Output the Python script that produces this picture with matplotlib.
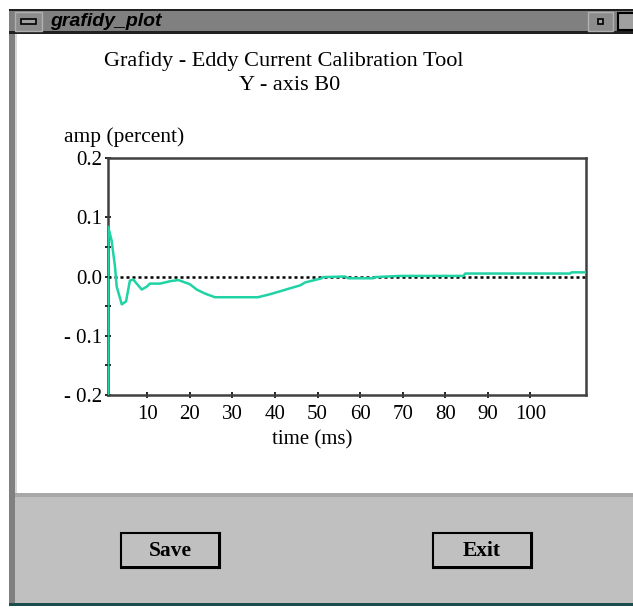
import matplotlib.pyplot as plt
from matplotlib.patches import Rectangle

# curve
time_ms = [0.76, 0.8, 1.6, 2.4, 2.8, 4.0, 5.0, 5.9, 6.7, 7.5, 8.7, 9.9, 10.6,
           13.0, 15.3, 17.3, 20.0, 21.6, 23.6, 25.9, 36.0, 38.8, 41.2, 43.5,
           45.9, 47.1, 51.0, 51.3, 56.5, 57.2, 63.1, 63.5, 69.4, 84.3, 84.7,
           109.4, 109.7, 113.1]
amp = [-0.2, 0.084, 0.061, 0.017, -0.017, -0.047, -0.042, -0.007, -0.005,
       -0.012, -0.022, -0.017, -0.012, -0.012, -0.008, -0.006, -0.013, -0.022,
       -0.029, -0.035, -0.035, -0.030, -0.025, -0.020, -0.015, -0.010, -0.003,
       -0.001, 0.0, -0.003, -0.003, -0.001, 0.001, 0.001, 0.005, 0.005,
       0.007, 0.007]

xticks = [10, 20, 30, 40, 50, 60, 70, 80, 90, 100]
yticks = [-0.2, -0.1, 0.0, 0.1, 0.2]
ytick_labels = ['- 0.2', '- 0.1', '0.0', '0.1', '0.2']

W, H = 633, 609
fig = plt.figure(figsize=(W / 100, H / 100), dpi=100)
serif = 'Liberation Serif'


def box(x0, y0, x1, y1, **kw):
    # pixel box, y measured from the top
    r = Rectangle((x0 / W, 1 - y1 / H), (x1 - x0) / W, (y1 - y0) / H,
                  transform=fig.transFigure, **kw)
    fig.patches.append(r)


def txt(x, y, s, **kw):
    fig.text(x / W, 1 - y / H, s, **kw)


# window chrome
box(9, 9, 15, 606, facecolor='#808080', edgecolor='none')
box(15, 33, 17, 496, facecolor='#d8d8d8', edgecolor='none')
box(9, 9, 633, 33, facecolor='#808080', edgecolor='none')
box(9, 9, 633, 11, facecolor='#202020', edgecolor='none')
box(9, 31, 633, 34, facecolor='#202020', edgecolor='none')
box(15, 12, 42, 31, facecolor='#8c8c8c', edgecolor='#b0b0b0', lw=1)
box(21, 19, 36, 24, facecolor='#a0a0a0', edgecolor='black', lw=1.2)
box(588, 12, 613, 31, facecolor='#8c8c8c', edgecolor='#b0b0b0', lw=1)
box(598, 19, 603, 24, facecolor='#a0a0a0', edgecolor='black', lw=1.2)
box(618, 13, 640, 30, facecolor='#a0a0a0', edgecolor='black', lw=1.5)
txt(50, 21, 'grafidy_plot', family='Liberation Sans', style='italic',
    weight='bold', fontsize=14, va='center', ha='left')

box(15, 493, 633, 497, facecolor='#a8a8a8', edgecolor='none')
box(15, 497, 633, 603, facecolor='#c0c0c0', edgecolor='none')
box(9, 603, 633, 606, facecolor='#1c4c4c', edgecolor='none')

for x0, label in [(121, 'Save'), (433, 'Exit')]:
    box(x0, 533, x0 + 99, 568, facecolor='#c0c0c0', edgecolor='black', lw=1.5)
    box(x0 + 1, 566, x0 + 99, 569, facecolor='black', edgecolor='none')
    box(x0 + 97, 534, x0 + 100, 569, facecolor='black', edgecolor='none')
    txt(x0 + 49, 551, label, family=serif, weight='bold', fontsize=15.5,
        ha='center', va='center')

# titles
txt(284, 61, 'Grafidy - Eddy Current Calibration Tool', family=serif,
    fontsize=16, ha='center', va='center')
txt(290, 85, 'Y - axis B0', family=serif, fontsize=16, ha='center', va='center')

# plot
ax = fig.add_axes([108 / W, 1 - 395 / H, 478 / W, 237 / H])
ax.plot(time_ms, amp, color='#1fd3a5', lw=1.8, zorder=3)
ax.axhline(0, color='black', lw=1.8, ls=(0, (1.2, 1.2)), zorder=2)
ax.set_xlim(0.76, 113.1)
ax.set_ylim(-0.2, 0.2)
ax.set_xticks(xticks)
ax.set_xticklabels([str(v) for v in xticks], family=serif, fontsize=15)
ax.set_yticks(yticks)
ax.set_yticklabels(ytick_labels, family=serif, fontsize=15)
ax.set_yticks([-0.15, -0.05, 0.05], minor=True)
ax.tick_params(direction='inout', length=5, width=1.2, colors='black', pad=2)
ax.tick_params(axis='x', pad=5)
ax.tick_params(which='minor', direction='inout', length=4, width=1.2)
for s in ax.spines.values():
    s.set_color('#404040')
    s.set_linewidth(1.8)
txt(64, 137, 'amp (percent)', family=serif, fontsize=15.5, ha='left', va='center')
txt(312, 440, 'time (ms)', family=serif, fontsize=15, ha='center', va='center')

fig.savefig('out.png', dpi=100)
